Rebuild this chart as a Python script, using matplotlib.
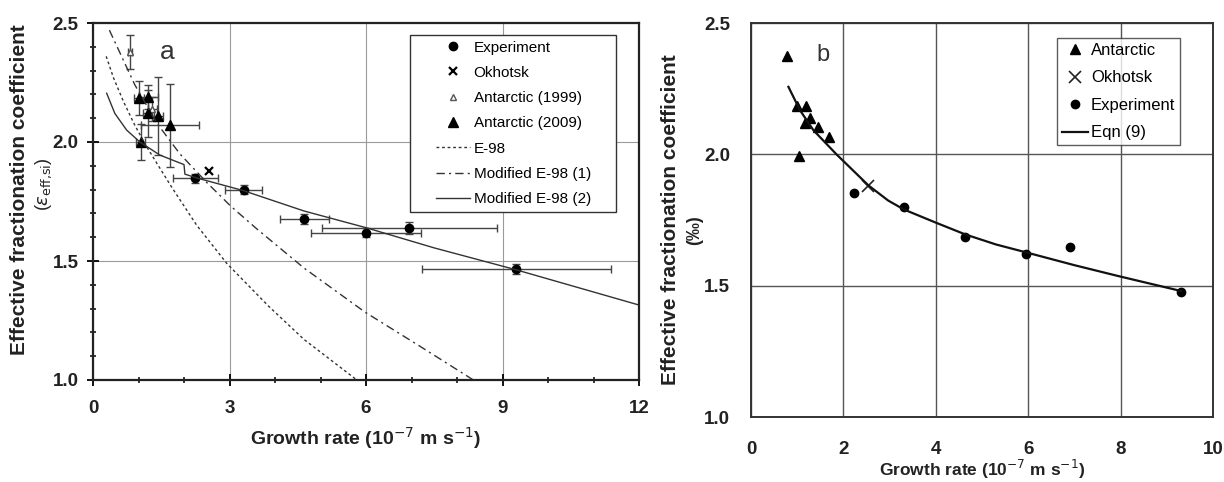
import numpy as np
import matplotlib
matplotlib.use("Agg")
import matplotlib.pyplot as plt
from matplotlib.ticker import MultipleLocator, FormatStrFormatter
from matplotlib.patches import Rectangle

plt.rcParams['font.family'] = ['Liberation Sans', 'DejaVu Sans']

# ---------------------------------- DATA -------------------------------------
# panel a
exp_x = [2.25, 3.31, 4.64, 6.0, 6.95, 9.3]
exp_y = [1.847, 1.80, 1.676, 1.619, 1.637, 1.466]
exp_xerr = [0.5, 0.41, 0.54, 1.2, 1.92, 2.08]
exp_yerr = [0.02, 0.02, 0.02, 0.02, 0.025, 0.02]

okh_x = [2.56]
okh_y = [1.879]

ant99_x = [0.81, 1.3]
ant99_y = [2.378, 2.14]
ant99_xerr = [0.05, 0.1]
ant99_yerr = [0.07, 0.05]

ant09_x = [1.01, 1.21, 1.2, 1.43, 1.69, 1.05]
ant09_y = [2.185, 2.19, 2.12, 2.11, 2.07, 2.0]
ant09_xerr = [0.1, 0.21, 0.1, 0.1, 0.64, 0.1]
ant09_yerr = [0.07, 0.05, 0.1, 0.165, 0.175, 0.075]

e98_x = [0.29, 0.45, 0.67, 0.92, 1.18, 1.47, 1.73, 2.28, 2.94, 3.86, 4.64, 5.8]
e98_y = [2.36, 2.27, 2.17, 2.07, 1.98, 1.89, 1.81, 1.65, 1.49, 1.31, 1.17, 1.0]

mod1_x = [0.36, 0.92, 1.4, 1.91, 2.5, 3.03, 3.6, 4.64, 5.98, 7.2, 8.36]
mod1_y = [2.47, 2.24, 2.08, 1.95, 1.83, 1.73, 1.635, 1.47, 1.285, 1.14, 1.0]

mod2_x = [0.3, 0.48, 0.74, 1.03, 1.47, 2.0, 2.02, 2.26, 3.3, 4.64, 6.0, 7.5, 9.3, 12.0]
mod2_y = [2.205, 2.12, 2.05, 2.0, 1.945, 1.905, 1.865, 1.85, 1.796, 1.71, 1.64, 1.555, 1.463, 1.315]

# panel b
b_ant_x = [0.79, 0.99, 1.19, 1.28, 1.17, 1.45, 1.69, 1.04]
b_ant_y = [2.374, 2.183, 2.183, 2.137, 2.12, 2.104, 2.066, 1.994]
b_okh_x = [2.53]
b_okh_y = [1.878]
b_exp_x = [2.23, 3.31, 4.64, 5.95, 6.9, 9.3]
b_exp_y = [1.852, 1.80, 1.687, 1.622, 1.647, 1.477]

eqn_x = [0.81, 1.06, 1.35, 1.85, 2.54, 2.97, 3.31, 4.0, 4.64, 5.3, 5.95, 7.0, 7.94, 9.3]
eqn_y = [2.257, 2.168, 2.092, 2.0, 1.882, 1.824, 1.79, 1.74, 1.695, 1.657, 1.627, 1.578, 1.537, 1.48]

# -------------------------------- FIGURE -------------------------------------
fig = plt.figure(figsize=(12.24, 4.82), dpi=100)
ax = fig.add_axes([93/1224, 102/482, 546/1224, 357/482])
ax2 = fig.add_axes([751/1224, 65/482, 462/1224, 394/482])

grid_c = '#9a9a9a'
eb = dict(fmt='none', ecolor='#444444', elinewidth=1, capsize=3, capthick=1)

# ---- panel a
ax.errorbar(ant99_x, ant99_y, xerr=ant99_xerr, yerr=ant99_yerr, **eb)
ax.errorbar(ant09_x, ant09_y, xerr=ant09_xerr, yerr=ant09_yerr, **eb)
ax.errorbar(exp_x, exp_y, xerr=exp_xerr, yerr=exp_yerr, **eb)

ax.plot(exp_x, exp_y, 'o', color='k', ms=6, label='Experiment')
ax.plot(okh_x, okh_y, 'x', color='k', ms=6, mew=1.6, label='Okhotsk')
ax.plot(ant99_x, ant99_y, '^', mfc='white', mec='#555555', ms=5, label='Antarctic (1999)')
ax.plot(ant09_x, ant09_y, '^', color='k', ms=7, label='Antarctic (2009)')
ax.plot(e98_x, e98_y, color='#333333', lw=1, ls=(0, (2, 2)), label='E-98')
ax.plot(mod1_x, mod1_y, color='#333333', lw=1, ls=(0, (6, 3, 1.5, 3)), label='Modified E-98 (1)')
ax.plot(mod2_x, mod2_y, color='#333333', lw=1, label='Modified E-98 (2)')

ax.set_xlim(0, 12)
ax.set_ylim(1.0, 2.5)
ax.xaxis.set_major_locator(MultipleLocator(3))
ax.xaxis.set_minor_locator(MultipleLocator(1))
ax.yaxis.set_major_locator(MultipleLocator(0.5))
ax.yaxis.set_minor_locator(MultipleLocator(0.1))
ax.yaxis.set_major_formatter(FormatStrFormatter('%.1f'))
ax.tick_params(which='major', direction='inout', length=9, width=1.3, labelsize=13.5, pad=6)
ax.tick_params(axis='x', which='major', pad=10)
ax.tick_params(which='minor', direction='inout', length=5, width=1.1)
for lab in ax.get_xticklabels() + ax.get_yticklabels():
    lab.set_fontweight('bold')
    lab.set_color('#222222')
ax.grid(True, which='major', color=grid_c, lw=0.8)
ax.set_axisbelow(True)
for s in ax.spines.values():
    s.set_linewidth(1.6)
    s.set_color('#222222')

ax.set_xlabel('Growth rate (10$^{-7}$ m s$^{-1}$)', fontsize=14, fontweight='bold', labelpad=6,
              color='#222222')
ax.text(1.63, 2.378, 'a', fontsize=19, color='#333333', ha='center', va='center')

# legend with a hand-drawn frame (wide left margin as in the original)
ax.add_patch(Rectangle((0.5806, 0.4706), 0.3772, 0.4958, transform=ax.transAxes,
                       facecolor='white', edgecolor='#333333', lw=1.0, zorder=4.5))
leg = ax.legend(loc='upper left', bbox_to_anchor=(0.617, 0.968), fontsize=11, frameon=False,
                handlelength=2.2, labelspacing=0.74, borderpad=0.4, handletextpad=0.26,
                borderaxespad=0)
leg.set_zorder(5)

fig.text(20/1224, 1 - 190/482, 'Effective fractionation coefficient', rotation=90,
         fontsize=15, fontweight='bold', ha='center', va='center', color='#222222')
fig.text(44/1224, 1 - 184/482, r'($\varepsilon_{\mathrm{eff}{,}\mathrm{si}}$)', rotation=90,
         fontsize=13, ha='center', va='center', color='#222222')

# ---- panel b
ax2.plot(b_ant_x, b_ant_y, '^', color='k', ms=7, label='Antarctic')
ax2.plot(b_okh_x, b_okh_y, 'x', color='#222222', ms=8, mew=1.2, label='Okhotsk')
ax2.plot(b_exp_x, b_exp_y, 'o', color='k', ms=6, label='Experiment')
ax2.plot(eqn_x, eqn_y, color='#111111', lw=1.6, label='Eqn (9)')

ax2.set_xlim(0, 10)
ax2.set_ylim(1.0, 2.5)
ax2.xaxis.set_major_locator(MultipleLocator(2))
ax2.yaxis.set_major_locator(MultipleLocator(0.5))
ax2.yaxis.set_major_formatter(FormatStrFormatter('%.1f'))
ax2.tick_params(axis='y', length=0, labelsize=13.5, pad=15)
ax2.tick_params(axis='x', length=0, labelsize=13.5, pad=17)
for lab in ax2.get_xticklabels() + ax2.get_yticklabels():
    lab.set_fontweight('bold')
    lab.set_color('#222222')
ax2.grid(True, color='#555555', lw=1.0)
ax2.set_axisbelow(True)
for s in ax2.spines.values():
    s.set_linewidth(1.4)
    s.set_color('#333333')

ax2.set_xlabel('Growth rate (10$^{-7}$ m s$^{-1}$)', fontsize=12.5, fontweight='bold', labelpad=0,
               color='#222222')
ax2.text(1.56, 2.378, 'b', fontsize=17, color='#333333', ha='center', va='center')

leg2 = ax2.legend(loc='upper left', bbox_to_anchor=(0.662, 0.962), fontsize=12, frameon=True,
                  fancybox=False, edgecolor='#333333', handlelength=1.56, labelspacing=0.75,
                  borderpad=0.3, handletextpad=0.18, borderaxespad=0)
leg2.get_frame().set_linewidth(1.0)

fig.text(670/1224, 1 - 220/482, 'Effective fractionation coefficient', rotation=90,
         fontsize=15, fontweight='bold', ha='center', va='center', color='#222222')
fig.text(695/1224, 1 - 230/482, '(‰)', rotation=90,
         fontsize=13, fontweight='bold', ha='center', va='center', color='#222222')

fig.savefig('out.png', dpi=100)
